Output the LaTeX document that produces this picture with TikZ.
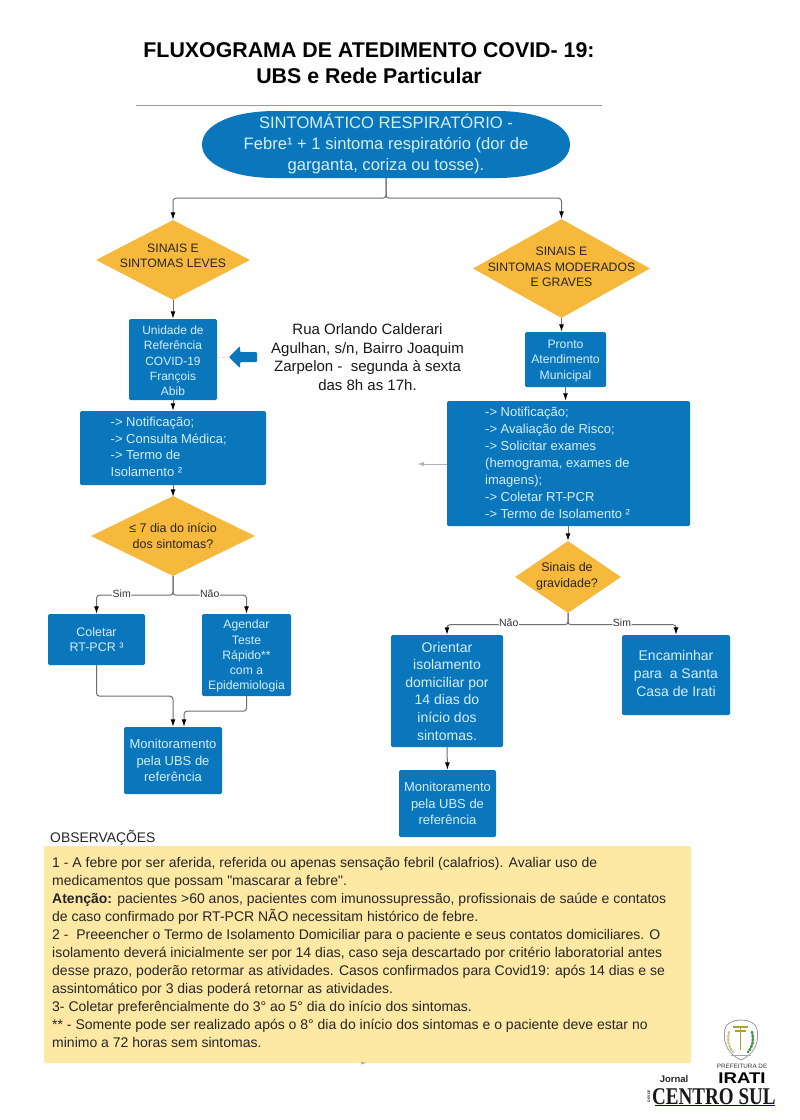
\documentclass[tikz,border=0pt]{standalone}
\usepackage{fontspec}
\setmainfont{Liberation Sans}
\newfontfamily\serifa{Liberation Serif}
\newfontfamily\reto{Liberation Sans}
\usetikzlibrary{shapes.geometric,arrows.meta}
\definecolor{azul}{HTML}{0A77BD}
\definecolor{claro}{HTML}{D5EEF8}
\definecolor{ouro}{HTML}{F6B93B}
\definecolor{nota}{HTML}{FDE8A4}
\definecolor{linha}{HTML}{6E6E6E}
\newcommand{\fs}[2]{\fontsize{#1}{#2}\selectfont}
\tikzset{
	caixa/.style = {fill=azul, text=claro, rounded corners=1.5pt, inner sep=0pt, align=center},
	caixatxt/.style = {text=claro, inner sep=0pt, align=center},
	dec/.style = {diamond, fill=ouro, inner sep=0pt},
	dectxt/.style = {text=black!85, align=center, inner sep=0pt},
	liga/.style = {draw=linha, line width=1pt, rounded corners=3pt, -{Latex[black,length=7.5pt,width=5pt]}},
	rot/.style = {fill=white, inner sep=.5pt, text=black!80, font=\fs{10.5}{12}}
}
\begin{document}
\begin{tikzpicture}[x = 1pt, y = -1pt]
	\useasboundingbox (0,0) rectangle (800,1120);
	\fill[white] (0,0) rectangle (800,1120);
	\node[font=\bfseries\fs{21.35}{26.5}, align=center, text=black] (titulo) at (369,63) {FLUXOGRAMA DE ATEDIMENTO COVID- 19:\\UBS e Rede Particular};
	\coordinate (regraA) at (136,105);
	\coordinate (regraB) at (602,105);
	\draw[black!40, line width=1pt] (regraA) -- (regraB);
	% inicio
	\fill[azul] (202,144.5) .. controls (202,125) and (232,111) .. (275,111) -- (497,111) .. controls (540,111) and (570,125) .. (570,144.5) .. controls (570,164) and (540,178) .. (497,178) -- (275,178) .. controls (232,178) and (202,164) .. (202,144.5) -- cycle;
	\node[caixatxt, minimum width=368pt, minimum height=67pt, font=\fs{16.6}{21}] (inicio) at (386,144.5) {SINTOMÁTICO RESPIRATÓRIO -\\Febre¹ + 1 sintoma respiratório (dor de\\garganta, coriza ou tosse).};
	% lado esquerdo
	\node[dec, minimum width=154pt, minimum height=80pt, label={[dectxt, font=\fs{12.2}{15.3}, yshift=4.5pt]center:{SINAIS E\\SINTOMAS LEVES}}] (leves) at (173,260) {};
	\node[caixa, minimum width=88pt, minimum height=81pt, label={[caixatxt, font=\fs{12}{15.3}, yshift=-1.5pt]center:{Unidade de\\Referência\\COVID-19\\François\\Abib}}] (unidade) at (173,359.5) {};
	\coordinate (seta) at (229,357);
	\fill[azul, rounded corners=1pt] (seta) -- (240,346) -- (240,352) -- (257,352) -- (257,362) -- (240,362) -- (240,368) -- cycle;
	\node[font=\fs{15}{18.6}, align=center, text=black!90] (endereco) at (367.5,357) {Rua Orlando Calderari\\Agulhan, s/n, Bairro Joaquim\\Zarpelon -\ \ segunda à sexta\\das 8h as 17h.};
	\node[caixa, minimum width=186pt, minimum height=74pt] (notif) at (173,448) {};
	\node[text=claro, font=\fs{13}{16.6}, align=left, inner sep=0pt, anchor=west] (notiftxt) at (110.5,447) {-> Notificação;\\-> Consulta Médica;\\-> Termo de\\Isolamento ²};
	\node[dec, minimum width=164pt, minimum height=80pt, label={[dectxt, font=\fs{12.5}{16.6}]center:{≤ 7 dia do início\\dos sintomas?}}] (dias) at (173,536) {};
	\node[caixa, minimum width=97pt, minimum height=51pt, font=\fs{12.5}{15.3}] (coletar) at (96.5,639.5) {Coletar\\RT-PCR ³};
	\node[caixa, minimum width=89pt, minimum height=82pt, label={[caixatxt, font=\fs{12.2}{15.3}, yshift=-1.2pt]center:{Agendar\\Teste\\Rápido**\\com a\\Epidemiologia}}] (agendar) at (246.5,655) {};
	\node[caixa, minimum width=98pt, minimum height=67pt, font=\fs{13}{16.4}] (monitA) at (173,760.5) {Monitoramento\\pela UBS de\\referência};
	% lado direito
	\node[dec, minimum width=177pt, minimum height=99pt, label={[dectxt, font=\fs{12.25}{15.3}, yshift=1.5pt]center:{SINAIS E\\SINTOMAS MODERADOS\\E GRAVES}}] (graves) at (561.5,268.5) {};
	\node[caixa, minimum width=81pt, minimum height=55pt, label={[caixatxt, font=\fs{12.2}{15.4}, yshift=-1.2pt]center:{Pronto\\Atendimento\\Municipal}}] (pronto) at (565.5,359.5) {};
	\node[caixa, minimum width=243pt, minimum height=125pt] (exames) at (568.5,463.5) {};
	\node[text=claro, font=\fs{13}{17}, align=left, inner sep=0pt, anchor=west] (examestxt) at (485,463) {-> Notificação;\\-> Avaliação de Risco;\\-> Solicitar exames\\(hemograma, exames de\\imagens);\\-> Coletar RT-PCR\\-> Termo de Isolamento ²};
	\coordinate (fora) at (418,464);
	\node[dec, minimum width=106pt, minimum height=72pt, label={[dectxt, font=\fs{12.5}{15.6}, xshift=-1pt, yshift=.5pt]center:{Sinais de\\gravidade?}}] (gravidade) at (568,577) {};
	\node[caixa, minimum width=112pt, minimum height=112pt, font=\fs{14}{17.6}] (orientar) at (447,691) {Orientar\\isolamento\\domiciliar por\\14 dias do\\início dos\\sintomas.};
	\node[caixa, minimum width=108pt, minimum height=80pt, label={[caixatxt, font=\fs{14}{17.8}, yshift=1.5pt]center:{Encaminhar\\para\ \ a Santa\\Casa de Irati}}] (santa) at (676,675) {};
	\node[caixa, minimum width=97pt, minimum height=67pt, font=\fs{13}{16.4}] (monitB) at (447.5,803.5) {Monitoramento\\pela UBS de\\referência};
	% ligacoes
	\draw[liga] (inicio.south) -- ++(0,20) -| (leves.north);
	\draw[liga] (inicio.south) -- ++(0,20) -| (graves.north);
	\draw[liga] (leves.south) -- (unidade.north);
	\draw[liga] (unidade.south) -- (notif.north);
	\draw[liga, shorten >=-1pt] (notif.south) -- (dias.north);
	\draw[liga] (dias.south) -- ++(0,19) -| node[rot, pos=.335, yshift=1pt] {Sim} (coletar.north);
	\draw[liga] (dias.south) -- ++(0,19) -| node[rot, pos=.25, yshift=1pt] {Não} (agendar.north);
	\draw[liga] (coletar.south) -- ++(0,31) -| (monitA.north);
	\draw[liga] (agendar.south) -- ++(0,15) -| ([xshift=11pt]monitA.north);
	\draw[liga] (graves.south) -- (graves.south |- pronto.north);
	\draw[liga] (pronto.south) -- (pronto.south |- exames.north);
	\draw[liga] (gravidade.north |- exames.south) -- (gravidade.north);
	\draw[liga] (gravidade.south) -- ++(0,11.5) -| node[rot, pos=.245, yshift=1.5pt] {Não} (orientar.north);
	\draw[liga] (gravidade.south) -- ++(0,11.5) -| node[rot, pos=.25, yshift=1.5pt] {Sim} (santa.north);
	\draw[liga] (orientar.south) -- (monitB.north);
	\draw[black!30, line width=.7pt, -{Latex[length=6pt,width=4.5pt]}] (exames.west |- fora) -- (fora);
	\draw[black!12, densely dashed, line width=.5pt] (unidade.east |- seta) -- (seta);
	% observacoes
	\node[anchor=west, inner sep=0pt, font=\fs{13.9}{16}, text=black!85] (obs) at (50,838) {OBSERVAÇÕES};
	\node[fill=nota, rounded corners=2pt, minimum width=647pt, minimum height=217pt, inner sep=0pt] (notas) at (367.5,954.5) {};
	\node[anchor=north west, inner sep=0pt, align=left, text=black!85, font=\fs{14}{18}] (notastxt) at (52,857) {1 - A febre por ser aferida, referida ou apenas sensação febril (calafrios). Avaliar uso de\\
		medicamentos que possam {\reto"}mascarar a febre{\reto"}.\\
		\textbf{Atenção:} pacientes >60 anos, pacientes com imunossupressão, profissionais de saúde e contatos\\
		de caso confirmado por RT-PCR NÃO necessitam histórico de febre.\\
		2 -\ \ Preeencher o Termo de Isolamento Domiciliar para o paciente e seus contatos domiciliares. O\\
		isolamento deverá inicialmente ser por 14 dias, caso seja descartado por critério laboratorial antes\\
		desse prazo, poderão retormar as atividades. Casos confirmados para Covid19: após 14 dias e se\\
		assintomático por 3 dias poderá retornar as atividades.\\
		3- Coletar preferêncialmente do 3° ao 5° dia do início dos sintomas.\\
		** - Somente pode ser realizado após o 8° dia do início dos sintomas e o paciente deve estar no\\
		minimo a 72 horas sem sintomas.};
	\fill[black!30] (361,1061.5) -- (366,1063) -- (361,1064.5) -- cycle;
	% logos
	\draw[black!40, line width=.8pt, fill=white] (725,1029) .. controls (727,1017) and (755,1017) .. (757,1029) .. controls (760,1045) and (752,1055) .. (741,1060) .. controls (730,1055) and (722,1045) .. (725,1029) -- cycle;
	\draw[green!40!black!70, line width=2.6pt, line cap=round, dash pattern=on 1.5pt off 2pt] (752,1032) .. controls (754,1040) and (753,1046) .. (748,1052);
	\draw[yellow!60!black!60, line width=2.2pt, line cap=round, dash pattern=on 1.5pt off 2pt] (729,1032) .. controls (727,1040) and (728,1046) .. (733,1052);
	\draw[olive!75, line width=1.2pt] (740.5,1027) -- (740.5,1050) (733,1027) -- (748,1027) (735,1031) -- (746,1031);
	\draw[black!35, line width=1pt] (731,1055) -- (751,1055);
	\node[font=\fs{6.3}{8}, inner sep=0pt, text=black!80] (prefeitura) at (742,1066) {PREFEITURA DE};
	\node[inner sep=0pt, text=black] (irati) at (742,1078.5) {\scalebox{1.2}[1]{\bfseries\fs{15.5}{16}IRATI}};
	\node[font=\bfseries\fs{9.5}{10}, inner sep=0pt, text=black!85] (jornal) at (674,1079.5) {Jornal};
	\node[inner sep=0pt, text=black!90, anchor=west] (centro) at (652,1096.5) {\scalebox{.795}[1]{\serifa\bfseries\fs{24}{25}CENTRO SUL}};
	\node[font=\bfseries\fs{3.5}{4}, inner sep=0pt, rotate=90, text=black!80] (desde) at (649,1096) {DESDE};
	\draw[blue!50!black, line width=.9pt] (655,1105) -- (775,1105);
\end{tikzpicture}
\end{document}
